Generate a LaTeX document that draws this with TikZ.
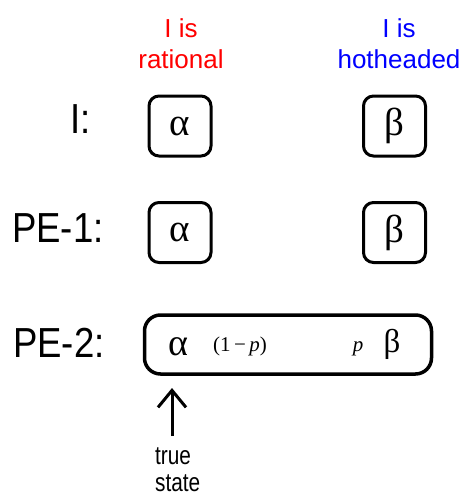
\documentclass[tikz,border=0pt]{standalone}
\usepackage{fontspec}
\setmainfont{Liberation Sans}
\newfontfamily\labfont[FakeStretch=0.87]{Liberation Sans}
\newfontfamily\narrowfont[FakeStretch=0.8]{Liberation Sans}
\newfontfamily\grkfont{Liberation Serif}
\usetikzlibrary{arrows.meta}
\begin{document}
\begin{tikzpicture}[x=1pt,y=-1pt,
  hdr/.style={anchor=base,inner sep=0pt,font=\fontsize{26}{26}\selectfont},
  rowlab/.style={anchor=base west,inner sep=0pt,font=\labfont\fontsize{42}{42}\selectfont},
  statebox/.style={draw,line width=3pt,rounded corners=10pt,minimum width=62pt,minimum height=60pt,inner sep=0pt,font=\grkfont\fontsize{39}{39}\selectfont},
  bigbox/.style={draw,line width=3.5pt,rounded corners=16pt,minimum width=287pt,minimum height=59pt,inner sep=0pt},
  grk/.style={anchor=base,inner sep=0pt,font=\grkfont\fontsize{#1}{#1}\selectfont},
  prob/.style={anchor=base,inner sep=0pt,font=\grkfont\fontsize{21}{21}\selectfont},
  small/.style={anchor=base west,inner sep=0pt,font=\narrowfont\fontsize{26}{26}\selectfont}
]
\useasboundingbox (0,0) rectangle (463,496);
% headers
\node[hdr,red] (h1a) at (181,37) {I is};
\node[hdr,red] (h1b) at (181,68) {rational};
\node[hdr,blue] (h2a) at (399,37) {I is};
\node[hdr,blue] (h2b) at (399,68) {hotheaded};
% row labels
\node[rowlab] (lI) at (70,133) {I:};
\node[rowlab] (lP1) at (12,242) {PE-1:};
\node[rowlab] (lP2) at (13,357) {PE-2:};
% boxes
\node[statebox] (a1) at (180,126) {α};
\node[statebox] (b1) at (394.5,126) {β};
\node[statebox] (a2) at (180,232.5) {α};
\node[statebox] (b2) at (394.5,232.5) {β};
\node[bigbox] (big) at (288,344.5) {};
\node[grk=38] (a3) at (178,355) {α};
\node[prob] (q) at (240,351) {(1\,−\,\textit{p})};
\node[prob] (pp) at (358,351) {\textit{p}};
\node[grk=33] (b3) at (392,352) {β};
% true state
\node[small] (t1) at (155,464) {true};
\node[small] (t2) at (155,491) {state};
\coordinate (tip) at (172,388);
\coordinate (tail) at (172,436);
\draw[line width=3pt,-{Straight Barb[length=17pt,width=28pt,line width=3pt]}] (tail) -- (tip);
\end{tikzpicture}
\end{document}
